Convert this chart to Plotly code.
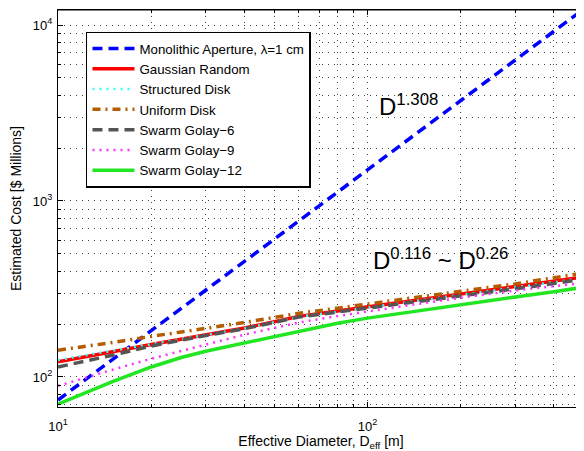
import plotly.graph_objects as go

diameter = [10, 12, 15, 20, 25, 30, 40, 50, 60, 80, 100, 150, 200, 300, 400, 500]
monolithic = [74, 94, 126, 183, 245, 311, 454, 607, 771, 1123, 1504, 2556, 3723, 6327, 9222, 12343]
gaussian = [122, 130, 139, 153, 164, 175, 190, 206, 221, 237, 250, 275, 295, 325, 348, 370]
structured = [125, 132, 141, 154, 165, 175, 189, 205, 220, 235, 248, 272, 291, 321, 344, 365]
uniform = [142, 148, 157, 170, 180, 190, 204, 218, 230, 246, 260, 288, 307, 338, 365, 390]
golay6 = [114, 122, 133, 150, 162, 172, 188, 204, 219, 234, 246, 270, 288, 317, 340, 360]
golay9 = [89, 98, 110, 127, 141, 153, 174, 190, 204, 222, 236, 262, 282, 310, 328, 342]
golay12 = [70, 80, 94, 114, 129, 140, 156, 171, 183, 202, 216, 240, 258, 285, 305, 324]

series = [
    ("Monolithic Aperture, λ=1 cm", monolithic, "#0000ff", 3.5, "10px,6px"),
    ("Gaussian Random", gaussian, "#ff0000", 3.5, "solid"),
    ("Structured Disk", structured, "#33ffff", 2.5, "2px,5px"),
    ("Uniform Disk", uniform, "#b35c00", 3.5, "8px,5px,2px,5px"),
    ("Swarm Golay−6", golay6, "#555555", 3.5, "10px,6px"),
    ("Swarm Golay−9", golay9, "#ff33ff", 2.5, "2px,5px"),
    ("Swarm Golay−12", golay12, "#22e622", 3.5, "solid"),
]

fig = go.Figure()
for name, vals, color, w, dash in series:
    fig.add_trace(go.Scatter(x=diameter, y=vals, mode="lines", name=name,
                             line=dict(color=color, width=w, dash=dash)))

gridcol = "#444444"
fig.update_layout(
    width=576, height=443,
    margin=dict(l=50, r=0, t=2, b=44),
    paper_bgcolor="white", plot_bgcolor="white",
    font=dict(family="Liberation Sans, Arial, sans-serif", size=14, color="black"),
    showlegend=True,
    legend=dict(x=0.0532, y=0.945, xanchor="left", yanchor="top",
                bgcolor="white", bordercolor="black", borderwidth=1.5,
                font=dict(size=13.3), itemwidth=42, tracegroupgap=0),
    xaxis=dict(type="log", range=[1, 2.699], automargin=False,
               tickvals=[10, 100], ticktext=["10<sup>1</sup>", "10<sup>2</sup>"],
               ticks="inside", ticklen=5, tickcolor="black", ticklabelstandoff=7,
               showline=True, linecolor="black", linewidth=1, mirror="ticks",
               showgrid=True, gridcolor=gridcol, griddash="1px,5px", gridwidth=1,
               minor=dict(tickvals=[20, 30, 40, 50, 60, 70, 80, 90, 200, 300, 400, 500],
                          ticks="inside", ticklen=3, tickcolor="black",
                          showgrid=True, gridcolor=gridcol, griddash="1px,5px", gridwidth=1),
               tickfont=dict(size=13), zeroline=False,
               title=dict(text="Effective Diameter, D<sub>eff</sub> [m]", font=dict(size=14), standoff=2)),
    yaxis=dict(type="log", range=[1.8295, 4.0852], automargin=False,
               tickvals=[100, 1000, 10000],
               ticktext=["10<sup>2</sup>", "10<sup>3</sup>", "10<sup>4</sup>"],
               ticks="inside", ticklen=5, tickcolor="black", ticklabelstandoff=2,
               showline=True, linecolor="black", linewidth=1, mirror=False,
               showgrid=True, gridcolor=gridcol, griddash="1px,5px", gridwidth=1,
               minor=dict(tickvals=[70, 80, 90, 200, 300, 400, 500, 600, 700, 800, 900,
                                    2000, 3000, 4000, 5000, 6000, 7000, 8000, 9000],
                          ticks="inside", ticklen=3, tickcolor="black",
                          showgrid=True, gridcolor=gridcol, griddash="1px,5px", gridwidth=1),
               tickfont=dict(size=13), zeroline=False,
               title=dict(text="Estimated Cost [$ Millions]", font=dict(size=14), standoff=8)),
)

# top border line
fig.add_shape(type="line", xref="paper", yref="paper", x0=0, x1=1, y0=1, y1=1,
              line=dict(color="black", width=1))

fig.add_annotation(text="D<sup>1.308</sup>", xref="paper", yref="paper",
                   x=0.606, y=0.718, xanchor="left", yanchor="bottom",
                   showarrow=False, font=dict(size=24, color="black"))
fig.add_annotation(text="D<sup>0.116</sup> ~ D<sup>0.26</sup>", xref="paper", yref="paper",
                   x=0.595, y=0.33, xanchor="left", yanchor="bottom",
                   showarrow=False, font=dict(size=24, color="black"))

fig.write_html("out.html")
